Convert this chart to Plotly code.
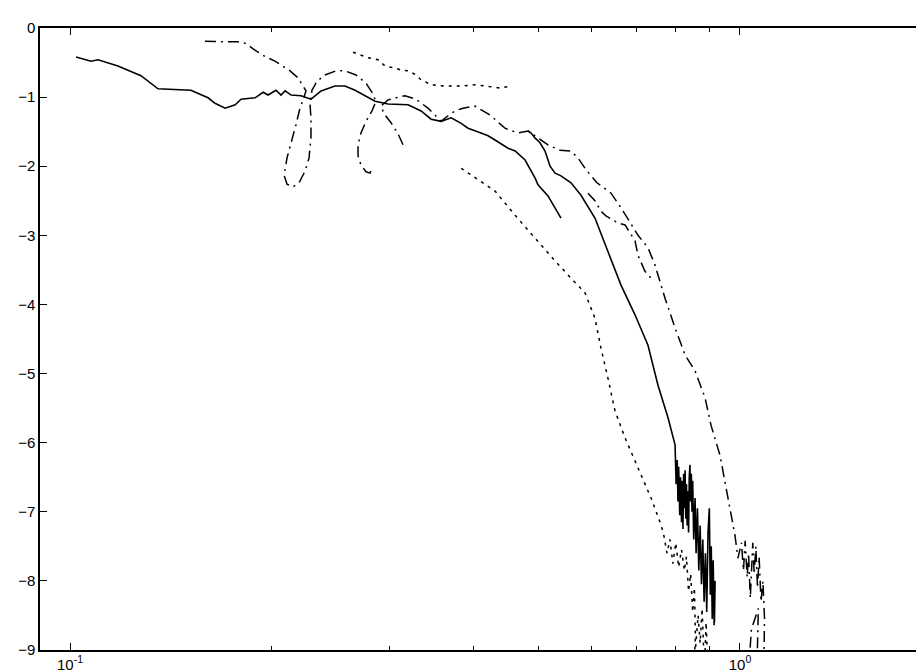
import plotly.graph_objects as go

# solid line, upper branch
solid_a_x = [0.1021, 0.1075, 0.1101, 0.1179, 0.1276, 0.1353, 0.1515, 0.1607, 0.1646, 0.1704,
             0.1764, 0.1800, 0.1889, 0.1942, 0.1975, 0.2030, 0.2065, 0.2094, 0.2138, 0.2212,
             0.2290, 0.2370, 0.2486, 0.2573, 0.2664, 0.2853, 0.2984, 0.3196, 0.3342, 0.3459,
             0.3580, 0.3706, 0.3836, 0.3927, 0.4107, 0.4207, 0.4309, 0.4506, 0.4617, 0.4713,
             0.4778, 0.4943, 0.4995, 0.5169, 0.5223, 0.5405]
solid_a_y = [-0.42, -0.48, -0.46, -0.55, -0.69, -0.88, -0.90, -1.01, -1.09, -1.16,
             -1.11, -1.03, -1.01, -0.93, -0.97, -0.90, -0.97, -0.91, -0.97, -0.98,
             -1.03, -0.91, -0.84, -0.84, -0.90, -1.06, -1.10, -1.11, -1.20, -1.32,
             -1.35, -1.30, -1.38, -1.45, -1.52, -1.56, -1.62, -1.74, -1.78, -1.85,
             -1.91, -2.17, -2.27, -2.43, -2.50, -2.75]

# solid line, lower branch with noisy tail
solid_b_x = [0.4828, 0.4878, 0.4943, 0.5029, 0.5117, 0.5206, 0.5297, 0.5405, 0.5595, 0.5790,
             0.6075, 0.6376, 0.6643, 0.6971, 0.7289, 0.7544, 0.7809, 0.8000, 0.8030, 0.8060,
             0.8080, 0.8100, 0.8130, 0.8150, 0.8180, 0.8200, 0.8220, 0.8240, 0.8260, 0.8280,
             0.8300, 0.8320, 0.8340, 0.8360, 0.8380, 0.8400, 0.8420, 0.8440, 0.8460, 0.8480,
             0.8500, 0.8530, 0.8550, 0.8570, 0.8600, 0.8620, 0.8640, 0.8680, 0.8700, 0.8720,
             0.8760, 0.8780, 0.8800, 0.8840, 0.8860, 0.8880, 0.8920, 0.8960, 0.9000, 0.9030,
             0.9060, 0.9090, 0.9120, 0.9150, 0.9180, 0.9160]
solid_b_y = [-1.49, -1.52, -1.59, -1.66, -1.78, -2.00, -2.10, -2.14, -2.24, -2.42,
             -2.75, -3.27, -3.72, -4.15, -4.59, -5.17, -5.64, -6.03, -6.60, -6.25,
             -6.85, -6.35, -7.05, -6.50, -7.15, -6.55, -7.25, -6.45, -6.95, -6.40,
             -7.10, -6.60, -7.20, -6.70, -7.30, -6.50, -6.32, -6.85, -6.45, -7.00,
             -6.55, -7.40, -6.90, -6.80, -7.60, -7.00, -6.95, -7.85, -7.30, -7.20,
             -8.05, -7.50, -7.40, -8.30, -7.70, -7.60, -8.45, -7.30, -6.95, -8.20,
             -7.50, -8.55, -7.70, -8.64, -8.00, -8.60]

# dash-dot curve: loops on the left
dd_loop_x = [0.1590, 0.1652, 0.1709, 0.1781, 0.1825, 0.1895, 0.1961, 0.2023, 0.2130, 0.2189,
             0.2250, 0.2228, 0.2204, 0.2174, 0.2138, 0.2108, 0.2087, 0.2108, 0.2152, 0.2197,
             0.2243, 0.2274, 0.2289, 0.2289, 0.2281, 0.2297, 0.2337, 0.2402, 0.2495, 0.2573,
             0.2672, 0.2766, 0.2823, 0.2862, 0.2823, 0.2766, 0.2718, 0.2691, 0.2691, 0.2718,
             0.2766, 0.2804, 0.2823]
dd_loop_y = [-0.19, -0.20, -0.20, -0.20, -0.22, -0.33, -0.42, -0.48, -0.62, -0.72,
             -0.91, -1.04, -1.16, -1.40, -1.64, -1.88, -2.13, -2.26, -2.30, -2.24,
             -2.07, -1.88, -1.59, -1.30, -1.09, -0.90, -0.77, -0.68, -0.62, -0.62,
             -0.68, -0.80, -0.93, -1.06, -1.20, -1.35, -1.52, -1.69, -1.85, -1.98,
             -2.08, -2.10, -2.03]

# dash-dot curve: main branch to the right with noisy tail
dd_main_x = [0.3141, 0.3087, 0.3014, 0.2942, 0.2912, 0.2983, 0.3066, 0.3162, 0.3284, 0.3422,
             0.3506, 0.3578, 0.3666, 0.3755, 0.3860, 0.4022, 0.4236, 0.4459, 0.4663, 0.4827,
             0.4995, 0.5169, 0.5386, 0.5595, 0.5731, 0.5890, 0.6117, 0.6420, 0.6643, 0.7044,
             0.7290, 0.7467, 0.7729, 0.8000, 0.8279, 0.8568, 0.8869, 0.9053, 0.9335, 0.9530,
             0.9829, 0.9930, 1.0050, 1.0120, 1.0180, 1.0250, 1.0300, 1.0360, 1.0450, 1.0500,
             1.0560, 1.0620, 1.0680, 1.0750, 1.0820, 1.0880, 1.0850, 1.0600, 1.0650, 1.0400,
             1.0300, 1.0350]
dd_main_y = [-1.69, -1.53, -1.37, -1.24, -1.13, -1.04, -1.01, -0.98, -1.03, -1.16,
             -1.26, -1.35, -1.27, -1.20, -1.16, -1.13, -1.26, -1.45, -1.52, -1.49,
             -1.59, -1.69, -1.77, -1.78, -1.88, -2.05, -2.24, -2.39, -2.60, -3.00,
             -3.18, -3.43, -3.91, -4.34, -4.73, -4.96, -5.35, -5.75, -6.18, -6.66,
             -7.34, -7.67, -7.45, -7.85, -7.42, -7.95, -7.60, -8.25, -7.45, -7.90,
             -7.50, -8.10, -7.65, -8.30, -8.00, -8.55, -9.30, -9.30, -8.40, -8.70,
             -9.30, -9.30]

# dash-dot curve: short parallel branch
dd_side_x = [0.5931, 0.6075, 0.6201, 0.6310, 0.6574, 0.6736, 0.6971, 0.7044, 0.7214, 0.7366]
dd_side_y = [-2.39, -2.50, -2.65, -2.72, -2.82, -2.85, -3.08, -3.29, -3.52, -3.62]

# dotted curve, upper piece
dot_up_x = [0.2645, 0.2718, 0.2785, 0.2882, 0.2952, 0.3056, 0.3119, 0.3196, 0.3273, 0.3342,
            0.3459, 0.3628, 0.3836, 0.4022, 0.4207, 0.4398, 0.4536]
dot_up_y = [-0.35, -0.39, -0.43, -0.46, -0.55, -0.58, -0.61, -0.62, -0.67, -0.75,
            -0.82, -0.84, -0.84, -0.82, -0.85, -0.87, -0.84]

# dotted curve, lower piece with noisy tail
dot_low_x = [0.3836, 0.4064, 0.4309, 0.4617, 0.4943, 0.5297, 0.5595, 0.5869, 0.6075, 0.6201,
             0.6353, 0.6508, 0.6736, 0.7044, 0.7366, 0.7624, 0.7700, 0.7780, 0.7860, 0.7940,
             0.8020, 0.8100, 0.8180, 0.8260, 0.8320, 0.8380, 0.8440, 0.8500, 0.8550, 0.8580,
             0.8530, 0.8660, 0.8720, 0.8780, 0.8850, 0.8900, 0.8960]
dot_low_y = [-2.03, -2.20, -2.36, -2.71, -3.04, -3.37, -3.62, -3.83, -4.20, -4.63,
             -5.07, -5.54, -5.93, -6.37, -6.80, -7.19, -7.35, -7.60, -7.40, -7.75,
             -7.45, -7.80, -7.55, -7.85, -7.65, -8.15, -7.90, -8.45, -8.10, -8.80,
             -9.30, -8.50, -8.90, -8.40, -9.30, -8.60, -9.30]

y_ticks = [0, -1, -2, -3, -4, -5, -6, -7, -8, -9]
x_ticks = [0.1, 1]
x_tick_text = ['10<sup>-1</sup>', '10<sup>0</sup>']
x_minor = [0.2, 0.3, 0.4, 0.5, 0.6, 0.7, 0.8, 0.9, 2]

ink = 'black'
fig = go.Figure()

fig.add_trace(go.Scatter(x=solid_a_x, y=solid_a_y, mode='lines',
                         line=dict(color=ink, width=1.6)))
fig.add_trace(go.Scatter(x=solid_b_x, y=solid_b_y, mode='lines',
                         line=dict(color=ink, width=1.6)))
for xs, ys in [(dd_loop_x, dd_loop_y), (dd_main_x, dd_main_y), (dd_side_x, dd_side_y)]:
    fig.add_trace(go.Scatter(x=xs, y=ys, mode='lines',
                             line=dict(color=ink, width=1.5, dash='11px,5px,2px,5px')))
for xs, ys in [(dot_up_x, dot_up_y), (dot_low_x, dot_low_y)]:
    fig.add_trace(go.Scatter(x=xs, y=ys, mode='lines',
                             line=dict(color=ink, width=1.5, dash='3px,5px')))

fig.update_layout(
    width=924, height=672,
    margin=dict(l=32, r=0, t=20, b=30),
    paper_bgcolor='white', plot_bgcolor='white',
    showlegend=False,
    font=dict(family='Liberation Sans, Arial, sans-serif', size=15, color=ink),
    xaxis=dict(type='log', range=[-1.0448, 0.2866],
               tickvals=x_ticks, ticktext=x_tick_text,
               ticks='inside', ticklen=7, tickwidth=1, tickcolor=ink,
               minor=dict(tickvals=x_minor, ticks='inside', ticklen=4, tickcolor=ink),
               showline=True, linecolor=ink, linewidth=1.5, mirror='ticks',
               showgrid=False, zeroline=False),
    yaxis=dict(range=[-9, 0], tickvals=y_ticks,
               ticks='inside', ticklen=7, tickwidth=1, tickcolor=ink,
               showline=True, linecolor=ink, linewidth=1.5, mirror=False,
               showgrid=False, zeroline=False),
)

fig.write_html('out.html')
